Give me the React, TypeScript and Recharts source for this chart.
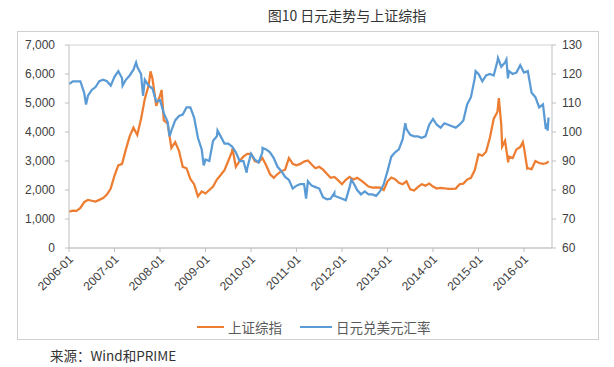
import { LineChart, Line, XAxis, YAxis, CartesianGrid } from 'recharts'

// monthly readings, 2006-01 .. 2016-07 (first of month)
const startYear = 2006
const monthCount = 127

// 上证综指
const shMonthly = [
  1250, 1290, 1280, 1380, 1580, 1660, 1630, 1600, 1660, 1720, 1840, 2050,
  2500, 2850, 2900, 3400, 3850, 4150, 3900, 4450, 5150, 5600, 5850, 4900,
  5250, 4400, 4300, 3450, 3650, 3350, 2800, 2750, 2380, 2200, 1780, 1950,
  1880, 2000, 2120, 2360, 2520, 2680, 3000, 3330, 2800, 3000, 3150, 3250,
  3250, 3000, 2950, 3100, 2850, 2550, 2420, 2550, 2650, 2700, 3100, 2900,
  2850, 2900, 2980, 3020, 2880, 2750, 2800, 2700, 2560, 2420, 2450, 2330,
  2200, 2350, 2450, 2360, 2420, 2330, 2230, 2120, 2080, 2090, 2080, 2000,
  2300, 2430, 2370, 2250, 2200, 2300, 2020, 1980, 2100, 2200, 2150, 2220,
  2120, 2050, 2070, 2060, 2040, 2040, 2050, 2200, 2220, 2360, 2420, 2680,
  3230, 3180, 3320, 3800, 4450, 4700, 4250, 3700, 3150, 3100, 3400, 3480,
  3450, 2750, 2720, 3000, 2930, 2900, 2930,
]
const shExtraDates = ['2007-10-16', '2008-01-14', '2009-08-04', '2015-06-12', '2015-07-08', '2015-08-26', '2015-12-22', '2016-01-27', '2016-07-15']
const shExtraValues = [6090, 5450, 3430, 5170, 3500, 2950, 3650, 2740, 2990]

// 日元兑美元汇率
const jpyMonthly = [
  116.5, 117.5, 117.5, 117.5, 113.5, 112.5, 114.5, 115.5, 117.5, 118, 117.5, 116,
  119, 121, 118.5, 118, 119.5, 121.5, 122.5, 120, 118, 116, 115, 110.5,
  111, 106.5, 103.5, 100.5, 104, 105.5, 106, 108.5, 108.5, 105, 98, 94,
  90.5, 90, 97, 98.5, 98.5, 96, 96, 95, 93, 90, 90, 87.5,
  92.5, 90.5, 89.5, 93, 94, 93, 91, 88, 86.5, 84.5, 83.5, 80.5,
  81.5, 82, 82, 83, 81.5, 81, 80.5, 77.5, 76.8, 77, 78, 77.5,
  77, 76.5, 81, 82.5, 80, 78.5, 79.5, 78.5, 78.5, 78, 79.5, 82,
  86.5, 91.5, 93, 94, 97.5, 101, 99, 98.5, 98.5, 98, 98.5, 102.5,
  104.5, 102.5, 101.5, 103, 102.5, 102, 101.5, 102.5, 104, 109.5, 112, 118.5,
  120, 117.5, 119.5, 120, 119.5, 124.5, 122.5, 124, 121, 120, 120.5, 123,
  120.5, 121, 113.5, 112, 108.5, 109.5, 103,
]
const jpyExtraDates = ['2006-05-16', '2007-03-05', '2007-06-22', '2007-08-17', '2008-03-17', '2008-12-17', '2009-04-06', '2009-11-27', '2010-04-02', '2011-03-17', '2011-10-31', '2012-03-15', '2013-05-22', '2014-12-08', '2015-06-05', '2015-08-12', '2015-08-24', '2016-06-24', '2016-07-08', '2016-07-15']
const jpyExtraValues = [109.5, 116, 124, 112.5, 98.5, 88.5, 100.5, 86, 94.5, 77, 79, 83.5, 103, 121, 125.5, 125, 118.5, 101, 100.5, 105]

const yearTicks = [2006, 2007, 2008, 2009, 2010, 2011, 2012, 2013, 2014, 2015, 2016]
const leftTicks = [0, 1000, 2000, 3000, 4000, 5000, 6000, 7000]
const rightTicks = [60, 70, 80, 90, 100, 110, 120, 130]

const monthDates = Array.from({ length: monthCount }, (_, i) => {
  const y = startYear + Math.floor(i / 12)
  const m = (i % 12) + 1
  return `${y}-${String(m).padStart(2, '0')}-01`
})

function toYear(d: string) {
  const [y, m, day] = d.split('-').map(Number)
  return y + (m - 1) / 12 + (day - 1) / 365
}

function buildSeries(dates: string[], values: number[], exDates: string[], exValues: number[]) {
  const pts = dates.map((d, i) => ({ t: toYear(d), v: values[i] }))
  exDates.forEach((d, i) => pts.push({ t: toYear(d), v: exValues[i] }))
  return pts.sort((a, b) => a.t - b.t)
}

const shData = buildSeries(monthDates, shMonthly, shExtraDates, shExtraValues)
const jpyData = buildSeries(monthDates, jpyMonthly, jpyExtraDates, jpyExtraValues)

const font = '"Liberation Sans", Arial, sans-serif'
const cjk = '"Noto Sans CJK SC", sans-serif'
const axisGrey = '#bfbfbf'

function YearTick({ x, y, payload }: any) {
  const ax = x + 5
  const ay = y + 6
  return (
    <text x={ax} y={ay} transform={`rotate(-45 ${ax} ${ay})`} textAnchor="end" fontSize={12} fontFamily={font} fill="#404040">
      {`${payload.value}-01`}
    </text>
  )
}

export default function App() {
  return (
    <div style={{ position: 'absolute', left: 0, top: 0, width: 614, height: 367, background: '#fff' }}>
      <div style={{ position: 'absolute', left: 0, width: 614, top: 5, textAlign: 'center', paddingLeft: 80, boxSizing: 'border-box', fontFamily: cjk, fontSize: 14, color: '#333' }}>
        图10 日元走势与上证综指
      </div>
      <div style={{ position: 'absolute', left: 17, top: 31, width: 580, height: 307, border: '1px solid #d0d0d0' }} />
      <div style={{ position: 'absolute', left: 0, top: 0 }}>
        <LineChart width={614} height={367} margin={{ top: 45, right: 17, left: 19, bottom: 59 }}>
          <CartesianGrid horizontal vertical={false} stroke="#d4d4d4" />
          <XAxis
            dataKey="t"
            type="number"
            domain={[2006, 2016.615]}
            ticks={yearTicks}
            allowDataOverflow
            height={60}
            stroke={axisGrey}
            tickSize={4}
            tick={<YearTick />}
            interval={0}
          />
          <YAxis
            yAxisId="left"
            domain={[0, 7000]}
            ticks={leftTicks}
            width={50}
            stroke={axisGrey}
            tickSize={4}
            tickMargin={10}
            tickFormatter={(v: number) => v.toLocaleString('en-US')}
            tick={{ fill: '#404040', fontSize: 12, fontFamily: font }}
          />
          <YAxis
            yAxisId="right"
            orientation="right"
            domain={[60, 130]}
            ticks={rightTicks}
            width={45}
            stroke={axisGrey}
            tickSize={4}
            tickMargin={6}
            tick={{ fill: '#404040', fontSize: 12, fontFamily: font }}
          />
          <Line yAxisId="left" data={shData} dataKey="v" type="linear" stroke="#ED7D31" strokeWidth={2.25} dot={false} isAnimationActive={false} />
          <Line yAxisId="right" data={jpyData} dataKey="v" type="linear" stroke="#5B9BD5" strokeWidth={2.25} dot={false} isAnimationActive={false} />
        </LineChart>
      </div>
      <div style={{ position: 'absolute', top: 317, left: 197, display: 'flex', alignItems: 'center', fontFamily: cjk, fontSize: 13.5, color: '#595959', whiteSpace: 'nowrap' }}>
        <span style={{ display: 'inline-block', width: 27, height: 2.5, background: '#ED7D31', marginRight: 4 }} />
        <span>上证综指</span>
        <span style={{ display: 'inline-block', width: 32, height: 2.5, background: '#5B9BD5', marginLeft: 18, marginRight: 4 }} />
        <span>日元兑美元汇率</span>
      </div>
      <div style={{ position: 'absolute', top: 345, left: 50, fontFamily: cjk, fontSize: 13.5, color: '#333' }}>
        来源：Wind和PRIME
      </div>
    </div>
  )
}
